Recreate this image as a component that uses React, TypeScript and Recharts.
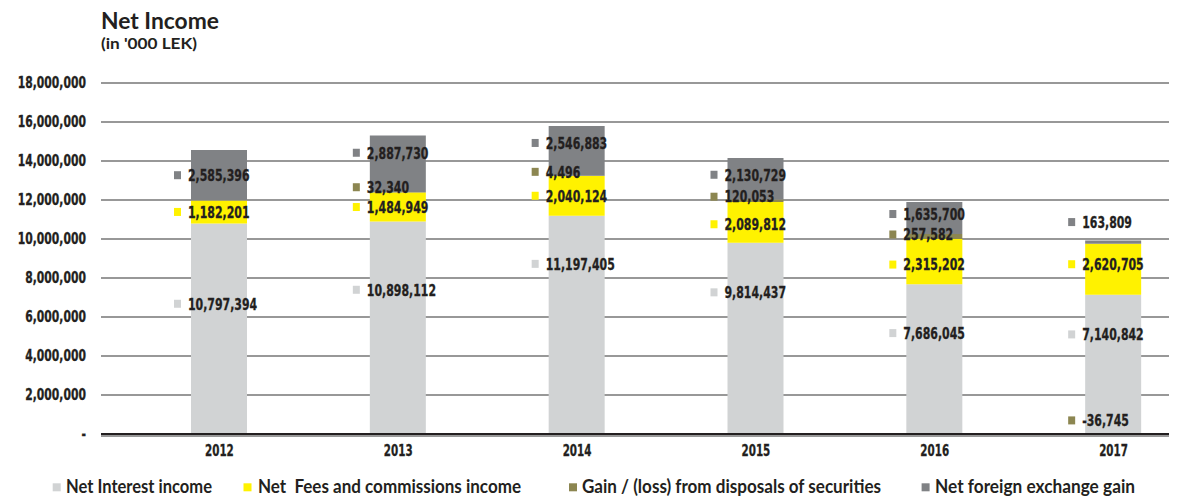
import React from 'react';
import { BarChart, Bar, XAxis, YAxis, CartesianGrid, ReferenceLine, LabelList } from 'recharts';

// Net income components, in '000 LEK
const years = ['2012', '2013', '2014', '2015', '2016', '2017'];
const netInterest = [10797394, 10898112, 11197405, 9814437, 7686045, 7140842];
const netFees = [1182201, 1484949, 2040124, 2089812, 2315202, 2620705];
const gainLoss = [0, 32340, 4496, 120053, 257582, -36745];
const netFx = [2585396, 2887730, 2546883, 2130729, 1635700, 163809];
const yTicks = [0, 2000000, 4000000, 6000000, 8000000, 10000000, 12000000, 14000000, 16000000, 18000000];

// label nudges in px (the source had hand-placed labels)
const interestNudge = [-25, -38, -61, -46, -26, -30];
const feesNudge = [0, 0, 0, 2, 3, -5];
const gainNudge = [0, -5, -4, -4, -2, -14];
const fxNudge = [0, -11, -8, -4, -4, -20];

const ink = '#231f20';
const condensed = "'DejaVu Sans Condensed', 'DejaVu Sans', sans-serif";
const colors = { interest: '#d1d3d4', fees: '#fff200', gain: '#8c8651', fx: '#808285' };

const data = years.map((year, i) => ({
  year,
  interest: netInterest[i],
  fees: netFees[i],
  gain: gainLoss[i],
  fx: netFx[i],
}));

const fmt = (v: number) => v.toLocaleString('en-US');

const makeLabel = (values: number[], color: string, nudge: number[]) => (props: any) => {
  const { x, y, height, value } = props;
  // zero-valued bars are skipped by recharts, so find the year from the value
  let i = values.indexOf(Number(value));
  if (i < 0) i = props.index;
  const v = values[i];
  if (!v) return null;
  const left = Number(x);
  const cy = Number(y) + Number(height) / 2 + nudge[i];
  return (
    <g key={`lbl-${i}`}>
      <rect x={left - 17} y={cy - 4} width={7} height={8} fill={color} />
      <text
        transform={`translate(${left - 3},${cy}) scale(0.76,1)`}
        dy="0.36em"
        fontFamily={condensed}
        fontWeight="bold"
        fontSize={16}
        fill={ink}
        stroke={ink}
        strokeWidth={0.3}
      >
        {fmt(v)}
      </text>
    </g>
  );
};

const YTick = ({ x, y, payload }: any) => (
  <text
    transform={`translate(${x - 7},${y}) scale(0.8,1)`}
    dy="0.36em"
    textAnchor="end"
    fontFamily={condensed}
    fontWeight="bold"
    fontSize={15}
    fill={ink}
    stroke={ink}
    strokeWidth={0.3}
  >
    {payload.value === 0 ? '-' : fmt(payload.value)}
  </text>
);

const YearTick = ({ x, y, payload }: any) => (
  <text
    transform={`translate(${x},${y + 12}) scale(0.72,1)`}
    textAnchor="middle"
    fontFamily={condensed}
    fontWeight="bold"
    fontSize={16}
    fill={ink}
    stroke={ink}
    strokeWidth={0.3}
  >
    {payload.value}
  </text>
);

const legendItems = [
  { name: 'Net Interest income', color: colors.interest, mx: 44.7, tx: 58, len: 146 },
  { name: 'Net  Fees and commissions income', color: colors.fees, mx: 235.5, tx: 250, len: 263 },
  { name: 'Gain / (loss) from disposals of securities', color: colors.gain, mx: 561, tx: 574, len: 299 },
  { name: 'Net foreign exchange gain', color: colors.fx, mx: 913.6, tx: 927, len: 200 },
];

const chartProps = {
  width: 1195,
  height: 458,
  data,
  stackOffset: 'sign' as const,
  margin: { top: 75, right: 0, bottom: 0, left: 0 },
  barSize: 56,
};

export default function App() {
  return (
    <div style={{ position: 'relative', width: 1169, height: 491, overflow: 'hidden' }}>
      <div style={{ position: 'absolute', left: 0, top: 0 }}>
        <BarChart {...chartProps}>
          <CartesianGrid vertical={false} stroke="#767676" strokeWidth={1.6} />
          <XAxis
            dataKey="year"
            padding={{ left: 29, right: 0 }}
            height={30}
            tickLine={false}
            axisLine={false}
            interval={0}
            tick={<YearTick />}
          />
          <YAxis
            width={93}
            domain={[-100000, 18000000]}
            ticks={yTicks}
            tickLine={false}
            axisLine={false}
            tick={<YTick />}
          />
          <Bar dataKey="interest" stackId="a" fill={colors.interest} isAnimationActive={false} />
          <Bar dataKey="fees" stackId="a" fill={colors.fees} isAnimationActive={false} />
          <Bar dataKey="gain" stackId="a" fill={colors.gain} isAnimationActive={false} />
          <Bar dataKey="fx" stackId="a" fill={colors.fx} isAnimationActive={false} />
          <ReferenceLine y={0} stroke={ink} strokeWidth={2} />
        </BarChart>
      </div>
      {/* same chart again, transparent, so every label sits above every bar */}
      <div style={{ position: 'absolute', left: 0, top: 0 }}>
        <BarChart {...chartProps}>
          <XAxis dataKey="year" padding={{ left: 29, right: 0 }} height={30} tick={false} tickLine={false} axisLine={false} />
          <YAxis width={93} domain={[-100000, 18000000]} ticks={yTicks} tick={false} tickLine={false} axisLine={false} />
          <Bar dataKey="interest" stackId="a" fill="transparent" isAnimationActive={false}>
            <LabelList dataKey="interest" content={makeLabel(netInterest, colors.interest, interestNudge)} />
          </Bar>
          <Bar dataKey="fees" stackId="a" fill="transparent" isAnimationActive={false}>
            <LabelList dataKey="fees" content={makeLabel(netFees, colors.fees, feesNudge)} />
          </Bar>
          <Bar dataKey="gain" stackId="a" fill="transparent" isAnimationActive={false}>
            <LabelList dataKey="gain" content={makeLabel(gainLoss, colors.gain, gainNudge)} />
          </Bar>
          <Bar dataKey="fx" stackId="a" fill="transparent" isAnimationActive={false}>
            <LabelList dataKey="fx" content={makeLabel(netFx, colors.fx, fxNudge)} />
          </Bar>
        </BarChart>
      </div>
      <svg width={1169} height={491} style={{ position: 'absolute', left: 0, top: 0, pointerEvents: 'none' }}>
        <text x={93} y={21} fontFamily="Lato, sans-serif" fontWeight="bold" fontSize={22} fill={ink} textLength={118} lengthAdjust="spacingAndGlyphs">
          Net Income
        </text>
        <text x={93} y={40.5} fontFamily="Lato, sans-serif" fontWeight="bold" fontSize={15} fill={ink} textLength={96} lengthAdjust="spacingAndGlyphs">
          (in '000 LEK)
        </text>
        {legendItems.map((it) => (
          <g key={it.name}>
            <rect x={it.mx} y={475.3} width={8} height={8} fill={it.color} />
            <text
              x={it.tx}
              y={484.7}
              fontFamily="Lato, sans-serif"
              fontWeight="bold"
              fontSize={18}
              fill={ink}
              textLength={it.len}
              lengthAdjust="spacingAndGlyphs"
              style={{ whiteSpace: 'pre' }}
            >
              {it.name}
            </text>
          </g>
        ))}
      </svg>
    </div>
  );
}
